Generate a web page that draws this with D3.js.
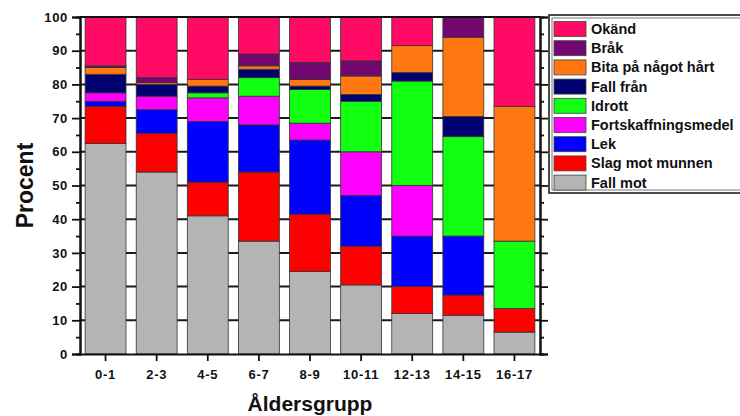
<!DOCTYPE html>
<html>
<head>
<meta charset="utf-8">
<script src="https://cdn.jsdelivr.net/npm/d3@7"></script>
<style>
  body { margin: 0; background: #fff; }
  text { font-family: "Liberation Sans", Arial, sans-serif; font-weight: bold; fill: #111; }
</style>
</head>
<body>
<svg id="chart" width="740" height="416"></svg>
<script>
(function() {

  // ---------------------------data---------------------------//
  var categories = ["0-1", "2-3", "4-5", "6-7", "8-9", "10-11", "12-13", "14-15", "16-17"];
  var fallMot    = [62.5, 54, 41, 33.5, 24.5, 20.5, 12, 11.5, 6.5];
  var slag       = [11, 11.5, 10, 20.5, 17, 11.5, 8, 6, 7];
  var lek        = [1.5, 7, 18, 14, 22, 15, 15, 17.5, 0];
  var fort       = [2.5, 4, 7, 8.5, 5, 13, 15, 0, 0];
  var idrott     = [0, 0, 1.5, 5.5, 10, 15, 31, 29.5, 20];
  var fallFran   = [5.5, 3.5, 2, 2.5, 1, 2, 2.5, 6, 0];
  var bita       = [2, 0.5, 2, 1, 2, 5.5, 8, 23.5, 40];
  var brak       = [0.5, 1.5, 0, 3.5, 5, 4.5, 0, 6, 0];
  var okand      = [14.5, 18, 18.5, 11, 13.5, 13, 8.5, 0, 26.5];
  var yTicks     = [0, 10, 20, 30, 40, 50, 60, 70, 80, 90, 100];

  // bottom to top
  var seriesNames = ["Fall mot", "Slag mot munnen", "Lek", "Fortskaffningsmedel", "Idrott",
                     "Fall från", "Bita på något hårt", "Bråk", "Okänd"];
  var seriesVals  = [fallMot, slag, lek, fort, idrott, fallFran, bita, brak, okand];
  var colors      = ["#b4b4b4", "#ff0000", "#0000ff", "#ff00ff", "#11ff11",
                     "#000070", "#ff7812", "#72086f", "#ff0a64"];

  var rows = categories.map(function(c, i) {
    var r = {cat: c};
    seriesNames.forEach(function(n, k) { r[n] = seriesVals[k][i]; });
    return r;
  });

  var svg = d3.select("#chart");
  var left = 80, right = 540, top = 17, bottom = 354;

  var x = d3.scaleBand().domain(categories).range([left, right]).paddingInner(0.2).paddingOuter(0.1);
  var y = d3.scaleLinear().domain([0, 100]).range([bottom, top]);
  var color = d3.scaleOrdinal().domain(seriesNames).range(colors);

  // gridlines behind bars (show through the gaps)
  svg.append("g").selectAll("line")
    .data(yTicks.filter(function(t) { return t > 0 && t < 100; }))
    .enter().append("line")
    .attr("x1", left).attr("x2", right)
    .attr("y1", function(d) { return y(d); }).attr("y2", function(d) { return y(d); })
    .attr("stroke", "#1a1a1a").attr("stroke-width", 2);

  // stacked bars
  var stacked = d3.stack().keys(seriesNames)(rows);
  svg.append("g").selectAll("g")
    .data(stacked)
    .enter().append("g")
    .attr("fill", function(d) { return color(d.key); })
    .selectAll("rect")
    .data(function(d) { return d.filter(function(p) { return p[1] - p[0] > 0; }); })
    .enter().append("rect")
    .attr("x", function(d) { return x(d.data.cat); })
    .attr("width", x.bandwidth())
    .attr("y", function(d) { return y(d[1]); })
    .attr("height", function(d) { return y(d[0]) - y(d[1]); })
    .attr("stroke", "#333").attr("stroke-width", 0.8);

  // left axis
  var yMinor = d3.range(5, 100, 10);
  svg.append("g").attr("transform", "translate(" + left + ",0)")
    .call(d3.axisLeft(y).tickValues(yTicks).tickSize(8).tickPadding(4));
  svg.append("g").attr("transform", "translate(" + left + ",0)")
    .call(d3.axisLeft(y).tickValues(yMinor).tickSize(4).tickFormat(""));

  // right axis (mirror, no labels)
  svg.append("g").attr("transform", "translate(" + right + ",0)")
    .call(d3.axisRight(y).tickValues(yTicks).tickSize(8).tickFormat(""));
  svg.append("g").attr("transform", "translate(" + right + ",0)")
    .call(d3.axisRight(y).tickValues(yMinor).tickSize(4).tickFormat(""));

  // bottom axis
  var gB = svg.append("g").attr("transform", "translate(0," + bottom + ")")
    .call(d3.axisBottom(x).tickSize(7).tickPadding(6).tickSizeOuter(0));

  // top frame line
  svg.append("line").attr("x1", left).attr("x2", right).attr("y1", top).attr("y2", top)
    .attr("stroke", "#111").attr("stroke-width", 2);

  svg.selectAll(".domain").attr("stroke", "#111").attr("stroke-width", 2);
  svg.selectAll(".tick line").attr("stroke", "#111").attr("stroke-width", 1.8);
  svg.selectAll(".tick text").style("font-size", "13px").style("letter-spacing", "0.7px")
    .style("font-family", "'Liberation Sans', Arial, sans-serif").style("font-weight", "bold").attr("fill", "#111");
  gB.selectAll(".tick text").attr("dy", "0.95em");

  // axis titles
  svg.append("text")
    .attr("transform", "translate(33," + ((top + bottom) / 2) + ") rotate(-90)")
    .attr("text-anchor", "middle")
    .style("font-size", "23px")
    .text("Procent");

  svg.append("text")
    .attr("x", (left + right) / 2).attr("y", 411)
    .attr("text-anchor", "middle")
    .style("font-size", "21px")
    .text("Åldersgrupp");

  // ---------------------------legend---------------------------//
  var legend = svg.append("g");
  legend.append("rect").attr("x", 549).attr("y", 15).attr("width", 220).attr("height", 178)
    .attr("fill", "#fff").attr("stroke", "#111").attr("stroke-width", 1.5);
  legend.append("rect").attr("x", 552).attr("y", 18).attr("width", 220).attr("height", 172)
    .attr("fill", "none").attr("stroke", "#555").attr("stroke-width", 0.8);

  var legendOrder = seriesNames.slice().reverse();
  var item = legend.selectAll("g.item")
    .data(legendOrder)
    .enter().append("g").attr("class", "item")
    .attr("transform", function(d, i) { return "translate(554," + (21.5 + i * 19.2) + ")"; });
  item.append("rect").attr("width", 32).attr("height", 15)
    .attr("fill", function(d) { return color(d); })
    .attr("stroke", "#444").attr("stroke-width", 0.8);
  item.append("text").attr("x", 37).attr("y", 12.5)
    .style("font-size", "14.5px")
    .text(function(d) { return d; });

}());
</script>
</body>
</html>
